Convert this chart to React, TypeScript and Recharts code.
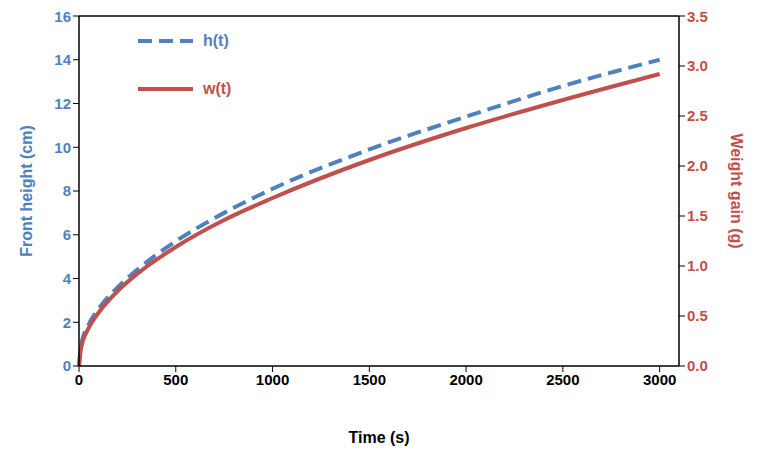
import React from 'react'
import { ComposedChart, Line, XAxis, YAxis, ReferenceLine } from 'recharts'

const times = [0, 10, 50, 100, 200, 300, 500, 750, 1000, 1500, 2000, 2500, 3000]
const heightCm = [0, 0.9, 1.9, 2.6, 3.6, 4.4, 5.7, 7.0, 8.1, 9.9, 11.4, 12.8, 14.0]
const weightG = [0, 0.17, 0.38, 0.53, 0.75, 0.92, 1.19, 1.46, 1.68, 2.06, 2.38, 2.66, 2.92]
const xTicks = [0, 500, 1000, 1500, 2000, 2500, 3000]
const leftTicks = [0, 2, 4, 6, 8, 10, 12, 14, 16]
const rightTicks = [0, 0.5, 1, 1.5, 2, 2.5, 3, 3.5]

const data = times.map((t, i) => ({ t, h: heightCm[i], w: weightG[i] }))

const BLUE = '#4F81BD'
const RED = '#C0504D'
const FONT = '"Liberation Sans", Arial, sans-serif'

export default function App() {
  return (
    <div style={{ position: 'relative', width: 751, height: 447, fontFamily: FONT }}>
      <ComposedChart width={751} height={447} data={data} margin={{ top: 8, right: 0, bottom: 0, left: 0 }}>
        <XAxis
          dataKey="t"
          type="number"
          domain={[0, 3100]}
          ticks={xTicks}
          tick={{ fill: '#000', fontSize: 15, fontWeight: 'bold', fontFamily: FONT }}
          tickLine={{ stroke: '#000' }}
          axisLine={{ stroke: '#000', strokeWidth: 1.5 }}
          height={89}
          label={{ value: 'Time (s)', position: 'insideBottom', offset: 12, fill: '#000', fontSize: 16, fontWeight: 'bold', fontFamily: FONT }}
        />
        <YAxis
          yAxisId="left"
          domain={[0, 16]}
          ticks={leftTicks}
          width={71}
          tick={{ fill: BLUE, fontSize: 15, fontWeight: 'bold', fontFamily: FONT }}
          tickLine={{ stroke: '#000' }}
          axisLine={{ stroke: '#000', strokeWidth: 1.5 }}
          label={{ value: 'Front height (cm)', angle: -90, position: 'insideLeft', offset: 18, fill: BLUE, fontSize: 16, fontWeight: 'bold', fontFamily: FONT, style: { textAnchor: 'middle' } }}
        />
        <YAxis
          yAxisId="right"
          orientation="right"
          domain={[0, 3.5]}
          ticks={rightTicks}
          width={80}
          tickFormatter={(v: number) => v.toFixed(1)}
          tick={{ fill: RED, fontSize: 15, fontWeight: 'bold', fontFamily: FONT }}
          tickLine={{ stroke: '#000' }}
          axisLine={{ stroke: '#000', strokeWidth: 1.5 }}
          label={{ value: 'Weight gain (g)', angle: 90, position: 'insideRight', offset: 22, fill: RED, fontSize: 16, fontWeight: 'bold', fontFamily: FONT, style: { textAnchor: 'middle' } }}
        />
        <ReferenceLine yAxisId="left" y={16} stroke="#000" strokeWidth={1.5} />
        <Line yAxisId="left" type="monotone" dataKey="h" stroke={BLUE} strokeWidth={4} strokeDasharray="14 7" dot={false} isAnimationActive={false} />
        <Line yAxisId="right" type="monotone" dataKey="w" stroke={RED} strokeWidth={4} dot={false} isAnimationActive={false} />
      </ComposedChart>
      <div style={{ position: 'absolute', left: 130, top: 24, display: 'flex', alignItems: 'center', gap: 10, color: BLUE, fontSize: 16, fontWeight: 'bold' }}>
        <svg width={55} height={6}><line x1={0} y1={3} x2={55} y2={3} stroke={BLUE} strokeWidth={4} strokeDasharray="14 7" /></svg>
        h(t)
      </div>
      <div style={{ position: 'absolute', left: 130, top: 72, display: 'flex', alignItems: 'center', gap: 10, color: RED, fontSize: 16, fontWeight: 'bold' }}>
        <svg width={55} height={6}><line x1={0} y1={3} x2={55} y2={3} stroke={RED} strokeWidth={4} /></svg>
        w(t)
      </div>
    </div>
  )
}
